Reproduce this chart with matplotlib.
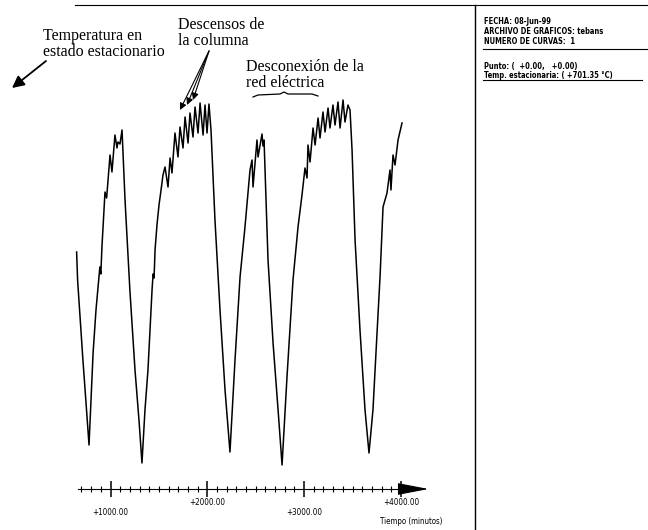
import matplotlib.pyplot as plt
from matplotlib.ticker import FixedLocator
from matplotlib import font_manager as fm
import numpy as np

# Registro de temperatura
tiempo = [650, 660, 715, 745, 778,
          820, 850, 890, 900, 912, 943, 960, 995, 1015, 1046, 1067, 1077, 1098, 1119,
          1150, 1200, 1253, 1294, 1325,
          1356, 1387, 1408, 1429, 1440, 1450, 1460, 1480, 1501, 1522, 1542,
          1563, 1594, 1615, 1635, 1666, 1697, 1718, 1749, 1770, 1801,
          1821, 1852, 1873, 1904, 1925, 1956, 1976, 1997, 2017,
          2038, 2079, 2131, 2183, 2234,
          2286, 2338, 2389, 2441, 2462, 2472, 2513, 2524, 2565, 2575, 2586,
          2627, 2679, 2731, 2772,
          2823, 2885, 2937, 2978,
          3009, 3030, 3040, 3061, 3092, 3113, 3144, 3164, 3195, 3216,
          3247, 3267, 3298, 3319, 3350, 3371, 3402, 3422, 3453, 3474,
          3495, 3526, 3577, 3629, 3670,
          3711, 3753, 3784, 3815, 3856, 3887, 3897, 3918, 3939, 3970, 4011]
temperatura = [719, 705, 665, 645, 622.5,
               668.5, 690, 711.5, 708, 722, 749, 746, 767.5, 759, 777.5, 771, 774, 773, 780,
               745, 700, 660, 635, 613.5,
               640, 660, 680, 700, 708, 706, 720, 732.5, 742.5, 750, 757.5,
               761.5, 751.5, 766, 758.5, 778.5, 766.5, 781.5, 771, 786.5, 773.5,
               788.5, 776.5, 791.5, 778.5, 793.5, 777.5, 792.5, 778.5, 793,
               780, 735, 690, 650, 619,
               665, 706.5, 731.5, 760, 765, 751.5, 775, 766.5, 778, 772, 775,
               715, 673.5, 640, 612.5,
               656.5, 705, 731.5, 747.5,
               761, 756, 772.5, 764, 781, 772.5, 786, 776, 789, 779,
               791, 781, 792.5, 782.5, 794, 781, 795, 784, 792.5, 790,
               770, 725, 680, 640, 618.5,
               640, 678.5, 706.5, 741.5, 748.5, 760, 750, 767.5, 762.5, 775, 783.5]

marcas = [1000, 2000, 3000, 4000]
etiquetas = ['+1000.00', '+2000.00', '+3000.00', '+4000.00']
marcas_menores = np.arange(700, 4000, 100)

info = ['FECHA: 08-Jun-99', 'ARCHIVO DE GRAFICOS: tebans', 'NUMERO DE CURVAS:  1']
info2 = ['Punto: (  +0.00,   +0.00)', 'Temp. estacionaria: ( +701.35 °C)']

serif = ['Liberation Serif', 'DejaVu Serif']

# fuente estrecha: la que haya instalada
fuentes = fm.fontManager.ttflist
if any(f.name == 'Liberation Sans Narrow' for f in fuentes):
    estrecha = dict(family=['Liberation Sans Narrow', 'DejaVu Sans'])
    escala = 1.0
elif any(f.name == 'DejaVu Sans' and 'ondensed' in f.fname for f in fuentes):
    estrecha = dict(family=['DejaVu Sans'], fontstretch='condensed')
    escala = 0.92
else:
    estrecha = dict(family=['DejaVu Sans'])
    escala = 0.8

fig = plt.figure(figsize=(6.48, 5.3), dpi=100)

# Grafica principal
ax = fig.add_axes([0, 0, 475 / 648, 1])
ax.plot(tiempo, temperatura, color='black', lw=1.1)
ax.set_xlim(-141.5, 4765)
ax.set_ylim(580, 845)

eje_y = 600.5
for s in ['top', 'right', 'left']:
    ax.spines[s].set_visible(False)
ax.spines['bottom'].set_position(('data', eje_y))
ax.spines['bottom'].set_bounds(660, 4000)
ax.spines['bottom'].set_linewidth(0.8)
ax.set_yticks([])

ax.xaxis.set_major_locator(FixedLocator(marcas))
ax.xaxis.set_minor_locator(FixedLocator(marcas_menores))
ax.set_xticklabels([('\n' if i % 2 == 0 else '') + e for i, e in enumerate(etiquetas)],
                   fontsize=6.3 * escala, **estrecha)
ax.tick_params(axis='x', which='major', direction='inout', length=11.5, width=1.1, pad=0.5)
ax.tick_params(axis='x', which='minor', direction='inout', length=4.5, width=0.8)

ax.annotate('', xy=(4285, eje_y), xytext=(3990, eje_y),
            arrowprops=dict(arrowstyle='-|>,head_length=1.3,head_width=0.25',
                            color='black', lw=0.8, mutation_scale=15,
                            shrinkA=0, shrinkB=0))

# Capa de anotaciones en pixeles
ov = fig.add_axes([0, 0, 1, 1])
ov.set_xlim(0, 648)
ov.set_ylim(530, 0)
ov.axis('off')

ov.text(411, 521, 'Tiempo (minutos)', fontsize=6.2 * escala, ha='center', va='center', **estrecha)

# Marcos
ov.plot([75, 648], [5, 5], color='black', lw=0.8)
ov.plot([475, 475], [5, 530], color='black', lw=1.0)
ov.plot([483, 648], [49, 49], color='black', lw=0.8)
ov.plot([483, 642], [80, 80], color='black', lw=0.8)

# Panel de informacion
for i, t in enumerate(info):
    ov.text(484, 22 + 10 * i, t, fontsize=5.9 * escala, fontweight='bold',
            ha='left', va='center', **estrecha)
for i, t in enumerate(info2):
    ov.text(484, 66 + 9.5 * i, t, fontsize=5.9 * escala, fontweight='bold',
            ha='left', va='center', **estrecha)

# Anotaciones del texto
ov.text(43, 44, 'Temperatura en\nestado estacionario', family=serif, fontsize=11.5,
        ha='left', va='center', linespacing=1.05)
ov.annotate('', xy=(12, 88), xytext=(46, 61),
            arrowprops=dict(arrowstyle='-|>,head_length=0.6,head_width=0.3',
                            color='black', lw=1.3, mutation_scale=12, shrinkA=0, shrinkB=0))

ov.text(178, 33, 'Descensos de\nla columna', family=serif, fontsize=11.5,
        ha='left', va='center', linespacing=1.05)
for px, py in [(180, 110), (187, 105), (193, 100)]:
    ov.annotate('', xy=(px, py), xytext=(209, 51),
                arrowprops=dict(arrowstyle='-|>,head_length=0.5,head_width=0.25',
                                color='black', lw=0.8, mutation_scale=8, shrinkA=0, shrinkB=0))

ov.text(246, 75, 'Desconexión de la\nred eléctrica', family=serif, fontsize=11.5,
        ha='left', va='center', linespacing=1.05)
ov.plot([253, 258, 280, 284, 288, 312, 318], [97, 95, 94, 92, 94, 94, 96], color='black', lw=0.9)

plt.savefig('out.png', dpi=100)
